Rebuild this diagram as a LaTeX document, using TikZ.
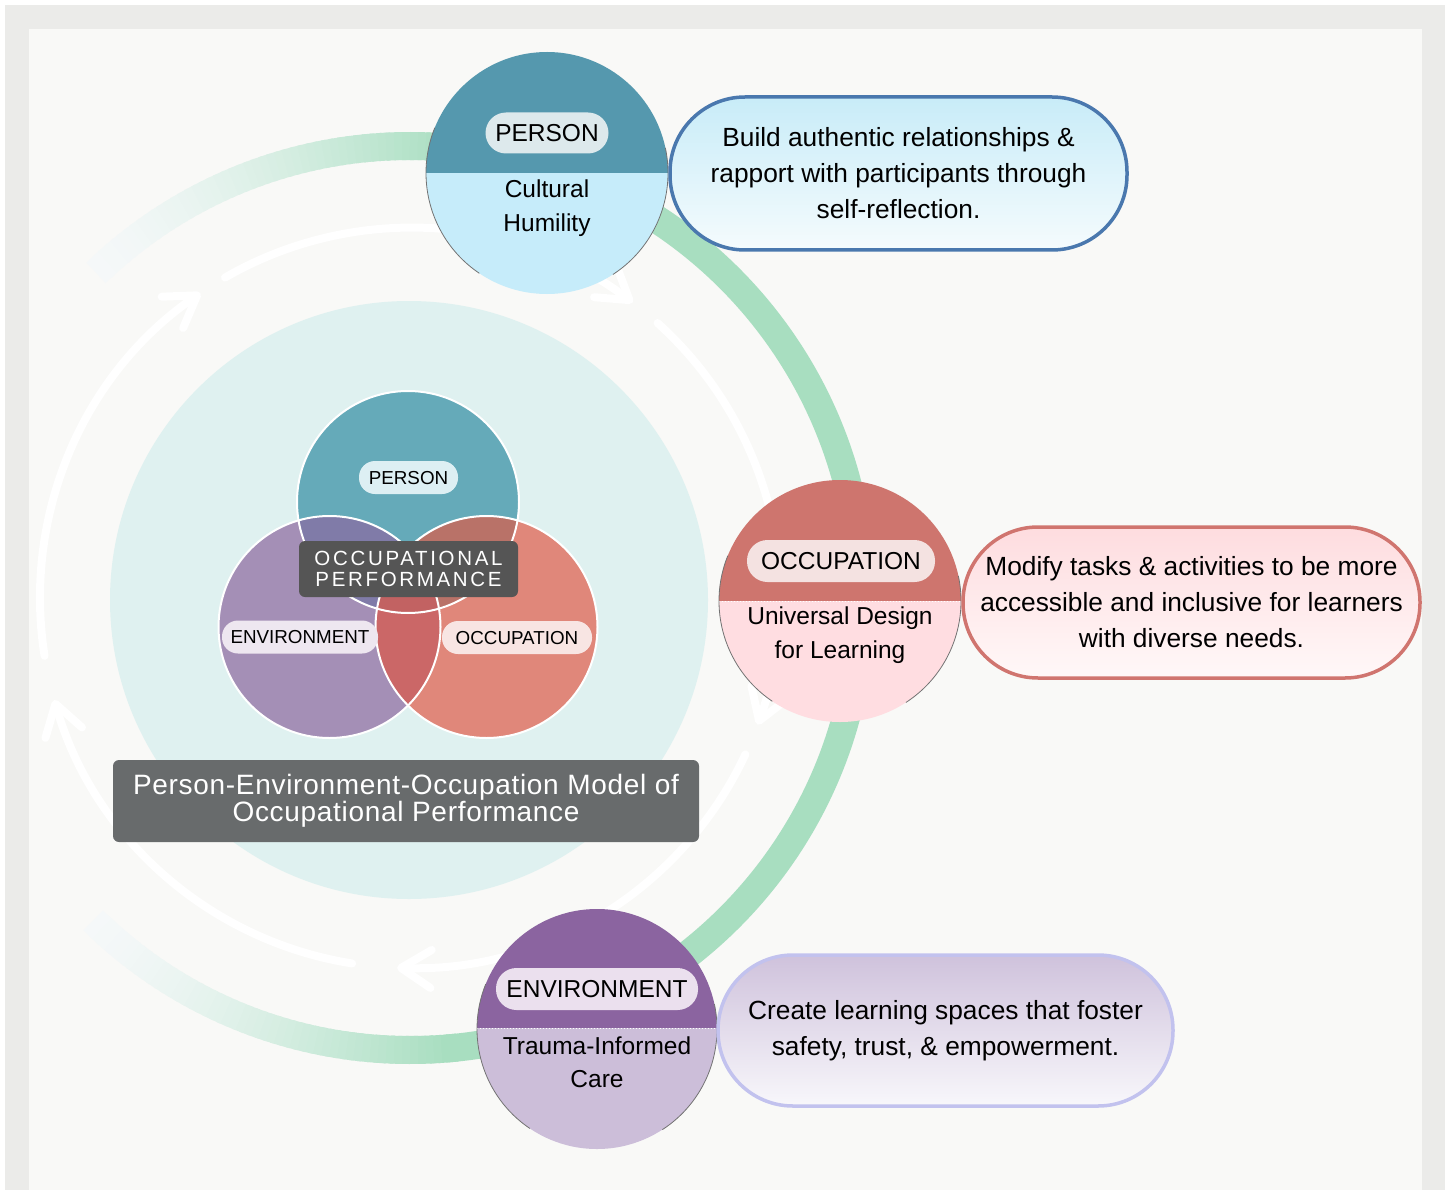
\documentclass[tikz,border=0pt]{standalone}
\usepackage{fontspec}
\setmainfont{Liberation Sans}
\newfontfamily\perffont[LetterSpace=13]{Liberation Sans}
\newfontfamily\titlefont[LetterSpace=2.5]{Liberation Sans}
\usetikzlibrary{arrows.meta}

% frame and ring
\definecolor{framegrey}{HTML}{EBEBE9}
\definecolor{paper}{HTML}{F9F9F7}
\definecolor{ringgreen}{HTML}{A8DEC0}
\definecolor{ringfade}{HTML}{F5F8F9}
\definecolor{discteal}{HTML}{DFF1F0}
% Venn diagram
\definecolor{venP}{HTML}{65AAB9}
\definecolor{venE}{HTML}{A48FB6}
\definecolor{venO}{HTML}{E0877A}
\definecolor{venPE}{HTML}{807BA8}
\definecolor{venPO}{HTML}{B97268}
\definecolor{venEO}{HTML}{CB6767}
\definecolor{venPEO}{HTML}{C26262}
\definecolor{venPpill}{HTML}{DDEFF3}
\definecolor{venEpill}{HTML}{EEE7F0}
\definecolor{venOpill}{HTML}{F8E5E3}
\definecolor{perfgrey}{HTML}{555555}
\definecolor{titlegrey}{HTML}{686B6C}
% principle circles
\definecolor{persTop}{HTML}{5598AE}
\definecolor{persBot}{HTML}{C6ECFA}
\definecolor{persPill}{HTML}{DDE9EC}
\definecolor{occTop}{HTML}{CE756E}
\definecolor{occBot}{HTML}{FFDDE1}
\definecolor{occPill}{HTML}{F4E2E1}
\definecolor{envTop}{HTML}{8B64A0}
\definecolor{envBot}{HTML}{CCBED9}
\definecolor{envPill}{HTML}{EBE0EE}
% callouts
\definecolor{blueline}{HTML}{4A78AE}
\definecolor{blueTop}{HTML}{C8ECF8}
\definecolor{blueBot}{HTML}{F5FBFD}
\definecolor{pinkline}{HTML}{D0756F}
\definecolor{pinkTop}{HTML}{FEDCDF}
\definecolor{pinkBot}{HTML}{FFF8F8}
\definecolor{lavline}{HTML}{C2C2EE}
\definecolor{lavTop}{HTML}{CFC2DC}
\definecolor{lavBot}{HTML}{F8F7FB}

\begin{document}
\begin{tikzpicture}[x=1pt, y=-1pt,
  flowarrow/.style={white, line width=8pt, line cap=round,
    -{Straight Barb[length=30pt, width=38pt, round]}},
  vennedge/.style={white, line width=2pt},
  vpill/.style={rectangle, rounded corners=16pt, minimum height=33pt, inner sep=0pt,
    text height=13.4pt, text depth=0pt, font=\fontsize{18.8}{22}\selectfont},
  bigpill/.style={rectangle, rounded corners=20.5pt, minimum height=41pt, inner sep=0pt,
    text height=17.6pt, text depth=0pt, font=\fontsize{24.5}{30}\selectfont},
  circtext/.style={align=center, inner sep=0pt, font=\fontsize{24.5}{33.5}\selectfont},
  rimline/.style={draw=black!55, line width=0.8pt},
  splitline/.style={white, dotted, line width=1pt},
  callout/.style={rectangle, rounded corners=75pt, line width=3.5pt, inner sep=0pt,
    align=center, font=\fontsize{26.3}{36}\selectfont},
]
\useasboundingbox (0,0) rectangle (1450,1190);
\fill[white] (0,0) rectangle (1450,1190);
\fill[framegrey] (5,5) rectangle (1445,1190);
\fill[paper] (29,29) rectangle (1422,1190);

% outer green cycle, fading out on the left
\coordinate (ringc) at (410,598);
\foreach \t in {-134,...,-84} {
  \pgfmathsetmacro\p{100*(max(0,min(1,(452*cos(\t)+315)/355)))^1.4}
  \draw[draw=ringgreen!\p!ringfade, line width=28pt]
    (ringc) ++(\t:452) arc[start angle=\t, end angle=\t+1.5, radius=452];
}
\foreach \t in {84,...,133} {
  \pgfmathsetmacro\p{100*(max(0,min(1,(452*cos(\t)+315)/355)))^1.4}
  \draw[draw=ringgreen!\p!ringfade, line width=28pt]
    (ringc) ++(\t:452) arc[start angle=\t, end angle=\t+1.5, radius=452];
}
\draw[ringgreen, line width=28pt]
  (ringc) ++(-85:452) arc[start angle=-85, end angle=85, radius=452];

% light disc behind the model
\fill[discteal] (409,600) circle[radius=299];

% clockwise flow arrows
\foreach \s/\e in {-120/-53, -48/20, 25/92, 99/164, 171/235.5}
  \draw[flowarrow] (ringc) ++(\s:370) arc[start angle=\s, end angle=\e, radius=370];

% PEO Venn diagram
\coordinate (vp) at (408,502);
\coordinate (ve) at (329.5,627);
\coordinate (vo) at (486.5,627);
\fill[venP] (vp) circle[radius=111];
\fill[venE] (ve) circle[radius=111];
\fill[venO] (vo) circle[radius=111];
\begin{scope}
  \clip (vp) circle[radius=111];
  \fill[venPE] (ve) circle[radius=111];
  \fill[venPO] (vo) circle[radius=111];
\end{scope}
\begin{scope}
  \clip (ve) circle[radius=111];
  \fill[venEO] (vo) circle[radius=111];
\end{scope}
\begin{scope}
  \clip (vp) circle[radius=111];
  \clip (ve) circle[radius=111];
  \fill[venPEO] (vo) circle[radius=111];
\end{scope}
\draw[vennedge] (vp) circle[radius=111];
\draw[vennedge] (ve) circle[radius=111];
\draw[vennedge] (vo) circle[radius=111];

\node[vpill, fill=venPpill, minimum width=99pt] (vpl) at (408.5,477.5) {PERSON};
\node[vpill, fill=venEpill, minimum width=156pt] (vel) at (300,637) {ENVIRONMENT};
\node[vpill, fill=venOpill, minimum width=150pt] (vol) at (517,637.5) {OCCUPATION};

\node[rectangle, rounded corners=6pt, fill=perfgrey, text=white, minimum width=219pt,
  minimum height=56pt, inner sep=0pt, align=center,
  font=\perffont\fontsize{20.5}{21}\selectfont] (perf) at (408.5,569)
  {OCCUPATIONAL\\PERFORMANCE};

\node[rectangle, rounded corners=6pt, fill=titlegrey, text=white, minimum width=586pt,
  minimum height=82pt, inner sep=0pt, align=center,
  font=\titlefont\fontsize{28}{26}\selectfont] (title) at (406,801)
  {Person-Environment-Occupation Model of\\Occupational Performance};

% PERSON principle
\coordinate (pc) at (547,173);
\begin{scope}
  \clip (pc) circle[radius=121];
  \fill[persTop] (420,45) rectangle (675,173);
  \fill[persBot] (420,173) rectangle (675,300);
\end{scope}
\draw[rimline] (pc) ++(124:121) arc[start angle=124, end angle=202, radius=121];
\draw[rimline] (pc) ++(-12:121) arc[start angle=-12, end angle=57, radius=121];
\node[bigpill, fill=persPill, minimum width=123pt] (ppill) at (547,133) {PERSON};
\node[circtext] (ptext) at (547,208) {Cultural\\Humility};

% OCCUPATION principle
\coordinate (oc) at (840,601);
\begin{scope}
  \clip (oc) circle[radius=121];
  \fill[occTop] (715,475) rectangle (965,601);
  \fill[occBot] (715,601) rectangle (965,725);
\end{scope}
\draw[splitline] (719,601) -- (961,601);
\draw[rimline] (oc) ++(124:121) arc[start angle=124, end angle=202, radius=121];
\draw[rimline] (oc) ++(-12:121) arc[start angle=-12, end angle=57, radius=121];
\node[bigpill, fill=occPill, minimum width=188pt, minimum height=42pt] (opill) at (841,561) {OCCUPATION};
\node[circtext] (otext) at (840,635) {Universal Design\\for Learning};

% ENVIRONMENT principle
\coordinate (ec) at (597,1029);
\begin{scope}
  \clip (ec) circle[radius=120];
  \fill[envTop] (472,900) rectangle (722,1028);
  \fill[envBot] (472,1028) rectangle (722,1155);
\end{scope}
\draw[splitline] (477,1028) -- (717,1028);
\draw[rimline] (ec) ++(124:120) arc[start angle=124, end angle=202, radius=120];
\draw[rimline] (ec) ++(-12:120) arc[start angle=-12, end angle=57, radius=120];
\node[bigpill, fill=envPill, minimum width=202pt, minimum height=42pt] (epill) at (597,989) {ENVIRONMENT};
\node[circtext] (etext) at (597,1062) {Trauma-Informed\\Care};

% strategy callouts
\node[callout, draw=blueline, top color=blueTop, bottom color=blueBot,
  minimum width=457pt, minimum height=153pt] (pcall) at (898.5,173.5)
  {Build authentic relationships \&\\rapport with participants through\\self-reflection.};
\node[callout, draw=pinkline, top color=pinkTop, bottom color=pinkBot,
  minimum width=457pt, minimum height=151pt] (ocall) at (1191.5,602.5)
  {Modify tasks \& activities to be more\\accessible and inclusive for learners\\with diverse needs.};
\node[callout, draw=lavline, top color=lavTop, bottom color=lavBot,
  minimum width=455pt, minimum height=151pt] (ecall) at (945.5,1030.5)
  {Create learning spaces that foster\\safety, trust, \& empowerment.};
\end{tikzpicture}
\end{document}
